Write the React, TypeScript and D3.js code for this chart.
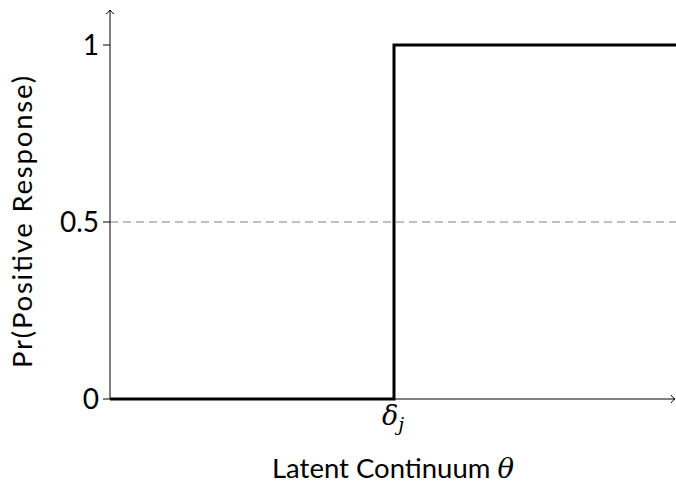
import React from 'react';
import * as d3 from 'd3';

// step response curve (theta, probability)
const stepTheta = [-1, 0, 0, 1];
const stepProb = [0, 0, 1, 1];
const yTicks = [0, 0.5, 1];
const yTickLabels = ['0', '0.5', '1'];
const refLevel = 0.5;
const delta = 0;

const W = 676;
const H = 483;

export default function App() {
  const x = d3.scaleLinear().domain([-1, 1]).range([110, 678]);
  const y = d3.scaleLinear().domain([0, 1]).range([399, 45]);
  const pts: [number, number][] = stepTheta.map((t, i) => [x(t), y(stepProb[i])]);
  const line = d3.line();
  const font = "Lato, 'Open Sans', sans-serif";
  const serif = "'DejaVu Serif', 'Liberation Serif', serif";

  return (
    <svg width={W} height={H} style={{ position: 'absolute', left: 0, top: 0 }}>
      {/* dashed reference */}
      <line x1={x(-1)} x2={W} y1={y(refLevel)} y2={y(refLevel)} stroke="#808080" strokeWidth={1} strokeDasharray="8 5" />
      {/* axes */}
      <line x1={x(-1)} x2={675} y1={y(0)} y2={y(0)} stroke="#000" strokeWidth={1} />
      <path d="M671,395 Q673,398 675,399 Q673,400 671,403" fill="none" stroke="#000" strokeWidth={1} />
      <line x1={x(-1)} x2={x(-1)} y1={y(0)} y2={10} stroke="#000" strokeWidth={1} />
      <path d={`M${x(-1) - 4},14 Q${x(-1) - 1},12 ${x(-1)},10 Q${x(-1) + 1},12 ${x(-1) + 4},14`} fill="none" stroke="#000" strokeWidth={1} />
      {yTicks.map((t, i) => (
        <g key={t}>
          <line x1={x(-1) - 7} x2={x(-1)} y1={y(t)} y2={y(t)} stroke="#000" strokeWidth={1} />
          <text x={x(-1) - 11} y={y(t)} dy="0.36em" textAnchor="end" fontFamily={font} fontSize={28}>{yTickLabels[i]}</text>
        </g>
      ))}
      {/* step curve */}
      <path d={line(pts) || ''} fill="none" stroke="#000" strokeWidth={3} />
      {/* labels */}
      <text x={x(delta) - 1} y={425} textAnchor="middle" fontFamily={serif} fontStyle="italic" fontSize={27}>
        δ<tspan dy={6} fontSize={19}>j</tspan>
      </text>
      <text x={393} y={478} textAnchor="middle" fontFamily={font} fontSize={27.5}>
        Latent Continuum <tspan fontFamily={serif} fontStyle="italic">θ</tspan>
      </text>
      <text transform={`translate(32,${y(0.5)}) rotate(-90)`} textAnchor="middle" fontFamily={font} fontSize={27.5}
        textLength={292} lengthAdjust="spacing">
        Pr(Positive Response)
      </text>
    </svg>
  );
}
